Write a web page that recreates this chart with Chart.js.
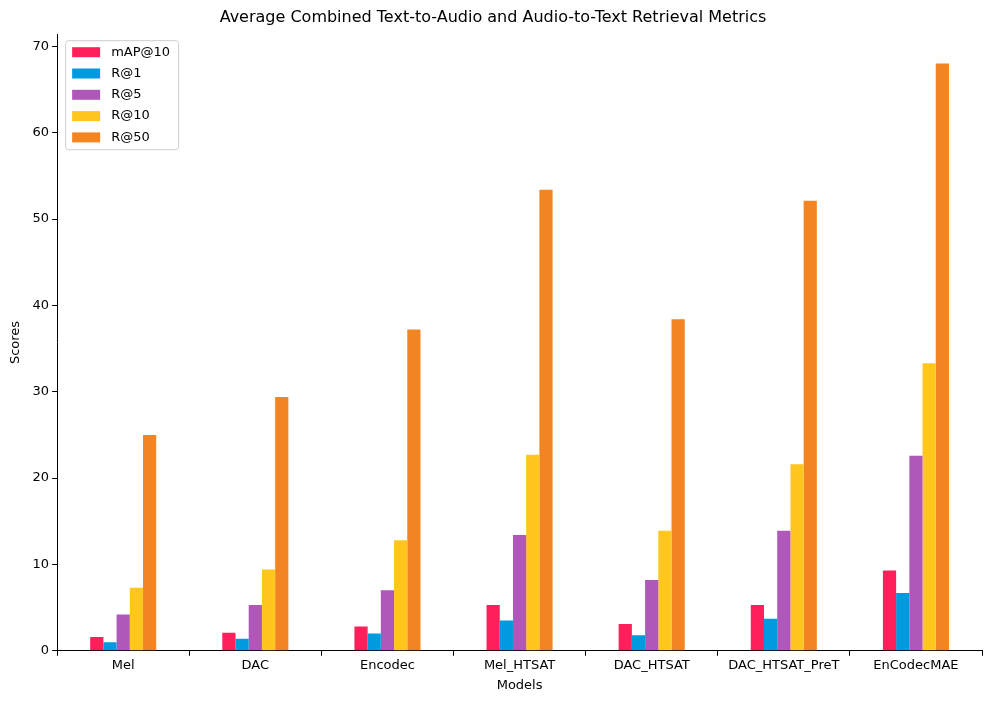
<!DOCTYPE html>
<html><head><meta charset="utf-8">
<script src="https://cdn.jsdelivr.net/npm/chart.js@4"></script>
<style>html,body{margin:0;padding:0;background:#fff}#w{width:996px;height:701px}</style>
</head><body><div id="w"><canvas id="c"></canvas></div>
<script>
const categories = ["Mel","DAC","Encodec","Mel_HTSAT","DAC_HTSAT","DAC_HTSAT_PreT","EnCodecMAE"];
const seriesNames = ["mAP@10","R@1","R@5","R@10","R@50"];
const mAP10 = [1.6,2.1,2.8,5.3,3.1,5.3,9.3];
const R1 = [1.0,1.4,2.0,3.5,1.8,3.7,6.7];
const R5 = [4.2,5.3,7.0,13.4,8.2,13.9,22.6];
const R10 = [7.3,9.4,12.8,22.7,13.9,21.6,33.3];
const R50 = [25.0,29.4,37.2,53.4,38.4,52.1,68.0];
const colors = ["#ff1f5b","#009ade","#af58ba","#ffc61e","#f28522"];
const yTicks = [0,10,20,30,40,50,60,70];
const values = [mAP10,R1,R5,R10,R50];

const legendPlugin = {
  id:'inlegend',
  afterDraw(chart){
    const ctx=chart.ctx, a=chart.chartArea;
    const x=a.left+8, y=a.top+6, w=113, h=109;
    ctx.save();
    ctx.fillStyle='rgba(255,255,255,0.8)';
    ctx.strokeStyle='#cccccc';ctx.lineWidth=1;
    ctx.beginPath();ctx.roundRect(x+0.5,y+0.5,w,h,3);ctx.fill();ctx.stroke();
    ctx.font='13px "DejaVu Sans"';ctx.textBaseline='middle';
    chart.data.datasets.forEach((d,i)=>{
      const yy=y+12+i*21.3;
      ctx.fillStyle=d.backgroundColor;ctx.fillRect(x+7,yy-5,28,10);
      ctx.fillStyle='#000';ctx.fillText(d.label,x+46,yy);
    });
    ctx.restore();
  }
};

new Chart(document.getElementById('c'),{
  type:'bar',
  data:{labels:categories,datasets:seriesNames.map((n,i)=>({label:n,data:values[i],backgroundColor:colors[i],categoryPercentage:0.5,barPercentage:1.0}))},
  options:{
    responsive:true,maintainAspectRatio:false,animation:false,
    layout:{padding:{left:4,right:14,top:0,bottom:4}},
    plugins:{legend:{display:false},tooltip:{enabled:false},
      title:{display:true,text:'Average Combined Text-to-Audio and Audio-to-Text Retrieval Metrics',color:'#000',font:{family:'DejaVu Sans',size:16,weight:'normal'},padding:{top:8,bottom:7}}},
    scales:{
      x:{grid:{display:true,drawOnChartArea:false,drawTicks:true,tickLength:5,color:'#000'},border:{color:'#000'},
         ticks:{color:'#000',font:{family:'DejaVu Sans',size:13},maxRotation:0,padding:2},
         title:{display:true,text:'Models',color:'#000',font:{family:'DejaVu Sans',size:13},padding:{top:2}}},
      y:{min:0,max:71.4,afterBuildTicks(s){s.ticks=yTicks.map(v=>({value:v}));},
         grid:{display:true,drawOnChartArea:false,drawTicks:true,tickLength:5,color:'#000'},border:{color:'#000'},
         ticks:{color:'#000',font:{family:'DejaVu Sans',size:13},padding:3},
         title:{display:true,text:'Scores',color:'#000',font:{family:'DejaVu Sans',size:13},padding:{bottom:6}}}
    }
  },
  plugins:[legendPlugin]
});
</script></body></html>
